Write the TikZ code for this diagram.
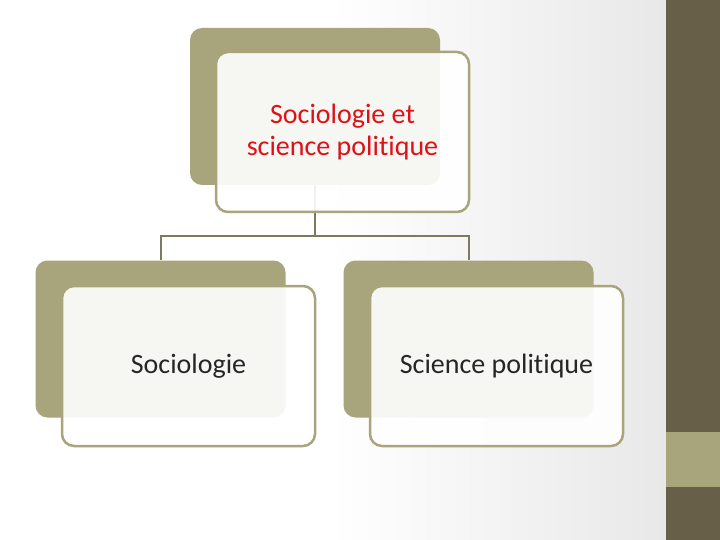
\documentclass[tikz,border=0pt]{standalone}
\usepackage{fontspec}
\setmainfont{Carlito}[Ligatures=NoCommon]
\definecolor{olive}{RGB}{168,164,124}
\definecolor{darkolive}{RGB}{103,95,72}
\definecolor{linkgray}{RGB}{125,122,96}
\definecolor{titlered}{RGB}{221,17,23}
\definecolor{textgray}{RGB}{38,38,38}
\begin{document}
\begin{tikzpicture}[x=1pt, y=-1pt,
  backbox/.style={fill=olive, rounded corners=12pt, minimum width=250pt, minimum height=157pt, inner sep=0pt},
  frontbox/.style={fill=white, fill opacity=0.9, text opacity=1, draw=olive, line width=2.5pt, rounded corners=12pt,
    minimum width=253pt, minimum height=160pt, align=center, text=textgray, font=\fontsize{28}{32}\selectfont},
  link/.style={draw=linkgray, line width=2pt}]
\useasboundingbox (0,0) rectangle (720,540);

% Background
\fill[white] (0,0) rectangle (666,540);
\shade[left color=white, right color=black!9] (330,0) rectangle (666,540);
\fill[darkolive] (666,0) rectangle (720,540);
\fill[olive] (666,432) rectangle (720,487);

% Back boxes
\node[backbox] (topback) at (315,106.5) {};
\node[backbox] (leftback) at (160.5,339) {};
\node[backbox] (rightback) at (468.5,339) {};

% Links
\coordinate (split) at (315,236);
\draw[link] (topback.south) -- (split) -| (leftback.north);
\draw[link] (split) -| (rightback.north);

% Front boxes
\node[frontbox, text=titlered] (top) at (342.5,132) {Sociologie et\\science politique};
\node[frontbox] (left) at (188.5,366) {Sociologie};
\node[frontbox] (right) at (496.5,366) {Science politique};
\end{tikzpicture}
\end{document}
